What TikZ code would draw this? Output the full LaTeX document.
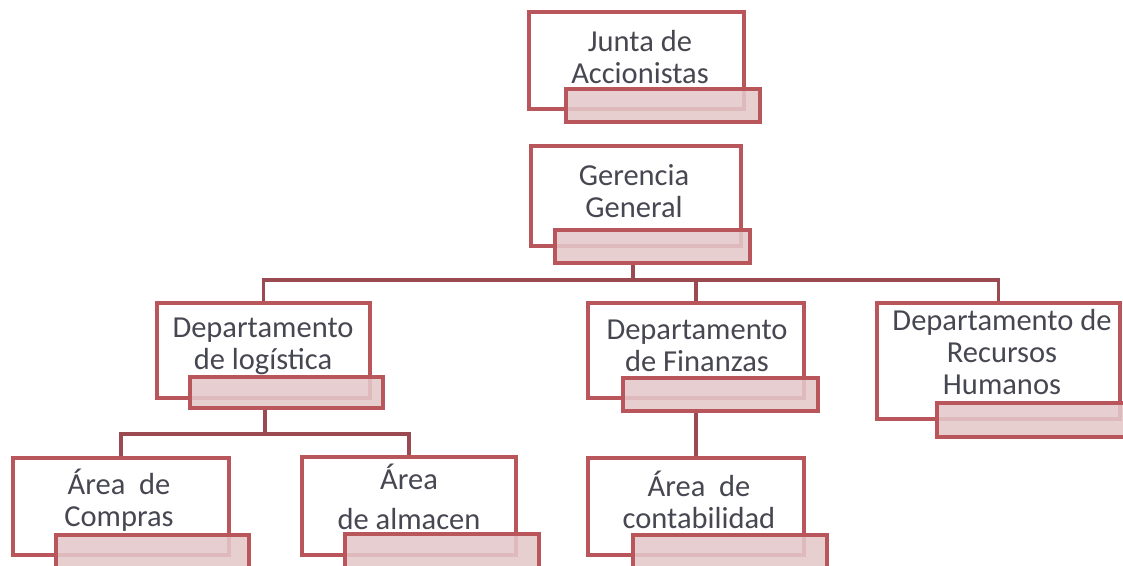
\documentclass[tikz,border=0pt]{standalone}
\usepackage{fontspec}
\setmainfont{Carlito}
\definecolor{boxred}{HTML}{B9565C}
\definecolor{linkred}{HTML}{9A4A50}
\definecolor{pinkfill}{HTML}{E4C8CA}
\definecolor{txtgray}{HTML}{474752}
\begin{document}
\begin{tikzpicture}[x=1pt,y=-1pt,
  mainbox/.style={draw=boxred, line width=3.2pt, fill=white, inner sep=0pt},
  pinkbox/.style={draw=boxred, line width=3.2pt, fill=pinkfill, fill opacity=0.88, inner sep=0pt},
  lbl/.style={text=txtgray, font=\fontsize{30.5}{32}\selectfont, align=center, inner sep=0pt},
  link/.style={draw=linkred, line width=3.2pt}]
\useasboundingbox (0,0) rectangle (1123,565);
\clip (0,0) rectangle (1123,565);
% Junta
\node[mainbox, minimum width=215pt, minimum height=97pt] (jm) at (636.5,60.5) {};
\node[pinkbox, minimum width=194pt, minimum height=33pt] (jp) at (663,105.5) {};
\node[lbl] (jt) at (640,57) {Junta de\\Accionistas};
% Gerencia
\node[mainbox, minimum width=210pt, minimum height=100pt] (gm) at (636,196) {};
\node[pinkbox, minimum width=195pt, minimum height=33pt] (gp) at (652.5,246.5) {};
\node[lbl] (gt) at (634,191) {Gerencia\\General};
% Logistica
\node[mainbox, minimum width=213pt, minimum height=95pt] (lm) at (263.5,350.5) {};
\node[pinkbox, minimum width=193pt, minimum height=31pt] (lp) at (286.5,392.5) {};
\node[lbl] (lt) at (263,346) {Departamento\\de logística};
% Finanzas
\node[mainbox, minimum width=216pt, minimum height=95pt] (fm) at (696,350.5) {};
\node[pinkbox, minimum width=195pt, minimum height=33pt] (fp) at (720.5,394.5) {};
\node[lbl] (ft) at (697,346) {Departamento\\de Finanzas};
% RRHH
\node[mainbox, minimum width=243pt, minimum height=116pt] (rm) at (998.5,361) {};
\node[pinkbox, minimum width=203pt, minimum height=34pt] (rp) at (1038.5,420) {};
\node[lbl] (rt) at (1002,352) {Departamento de\\Recursos\\Humanos};
% Compras
\node[mainbox, minimum width=216pt, minimum height=97pt] (cm) at (121,506.5) {};
\node[pinkbox, minimum width=193pt, minimum height=33pt] (cp) at (152.5,551.5) {};
\node[lbl] (ct) at (119,500) {Área~~de\\Compras};
% Almacen
\node[mainbox, minimum width=214pt, minimum height=98pt] (am) at (409,506) {};
\node[pinkbox, minimum width=194pt, minimum height=34pt] (ap) at (442,551) {};
\node[lbl] (at) at (409,497) {Área\\[8pt]de almacen};
% Contabilidad
\node[mainbox, minimum width=216pt, minimum height=97pt] (km) at (696,506.5) {};
\node[pinkbox, minimum width=194pt, minimum height=33pt] (kp) at (730,551.5) {};
\node[lbl] (kt) at (699,500) {Área~~de\\contabilidad};
% connectors
\coordinate (b0) at (633,280);
\coordinate (b1) at (265,434);
\draw[link] (gp.south -| b0) -- (b0);
\draw[link] (lm.north) |- (b0) -| (rm.north);
\draw[link] (b0) -| (fm.north);
\draw[link] (lp.south -| b1) -- (b1);
\draw[link] (cm.north) |- (b1) -| (am.north);
\draw[link] (fp.south -| km.north) -- (km.north);
\end{tikzpicture}
\end{document}
